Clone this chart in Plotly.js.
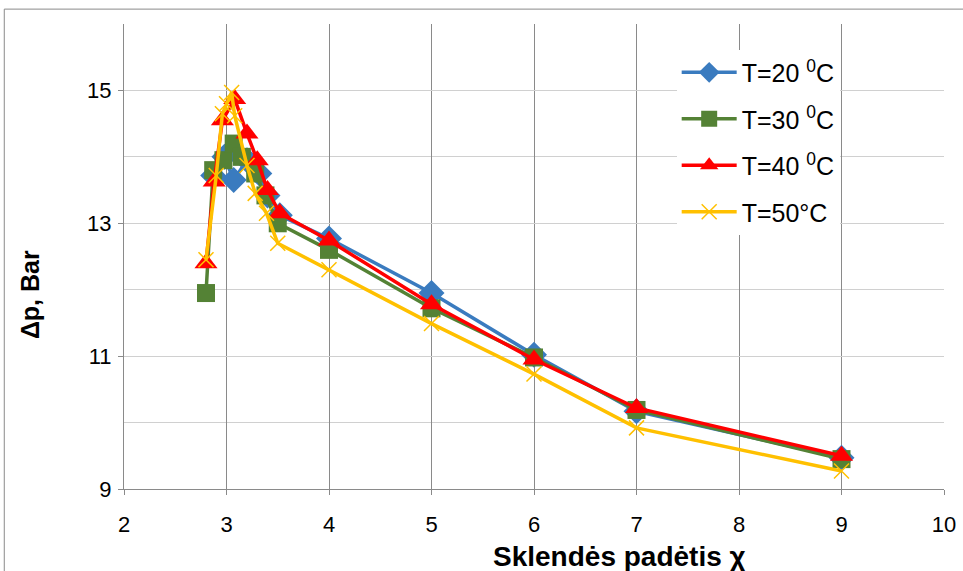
<!DOCTYPE html>
<html>
<head>
<meta charset="utf-8">
<script src="https://cdn.plot.ly/plotly-3.0.1.min.js"></script>
<style>
html,body{margin:0;padding:0;background:#fff;}
#chart{width:963px;height:571px;}
</style>
</head>
<body>
<div id="chart"></div>
<script>
// Series data (x = valve position, y = pressure drop, Bar)
const names = ["T=20 <sup>0</sup>C", "T=30 <sup>0</sup>C", "T=40 <sup>0</sup>C", "T=50°C"];

const x20 = [2.87, 2.98, 3.07, 3.2, 3.32, 3.4, 3.52, 4, 5, 6, 7, 9];
const y20 = [13.72, 14.0, 13.65, 13.95, 13.75, 13.42, 13.12, 12.77, 11.95, 11.02, 10.17, 9.47];

const x30 = [2.8, 2.87, 2.97, 3.07, 3.15, 3.28, 3.38, 3.5, 4, 5, 6, 7, 9];
const y30 = [11.95, 13.8, 13.95, 14.2, 14.0, 13.75, 13.42, 13.0, 12.6, 11.72, 10.98, 10.19, 9.45];

const x40 = [2.8, 2.88, 2.96, 3.08, 3.2, 3.3, 3.4, 3.52, 4, 5, 6, 7, 9];
const y40 = [12.4, 13.63, 14.55, 14.87, 14.35, 13.95, 13.5, 13.15, 12.74, 11.78, 10.95, 10.22, 9.5];

const x50 = [2.8, 2.9, 2.96, 3.0, 3.05, 3.08, 3.2, 3.28, 3.39, 3.5, 4, 5, 6, 7, 9];
const y50 = [12.45, 13.72, 14.65, 14.8, 14.97, 14.62, 13.87, 13.45, 13.15, 12.7, 12.3, 11.49, 10.73, 9.92, 9.27];

const xTicks = [2, 3, 4, 5, 6, 7, 8, 9, 10];
const yTicks = [9, 11, 13, 15];

const xTitle = "Sklendės padėtis χ";
const yTitle = "Δp, Bar";

const FONT = "Liberation Sans, Arial, sans-serif";

const traces = [
  {x: x20, y: y20, name: names[0], legendgroup: "a", mode: "lines+markers",
   line: {color: "#3a7bbf", width: 3.5},
   marker: {symbol: "diamond", size: 20, color: "#3a7bbf"}},
  {x: x30, y: y30, name: names[1], legendgroup: "b", mode: "lines+markers",
   line: {color: "#548235", width: 3.5},
   marker: {symbol: "square", size: 18, color: "#548235"}},
  {x: x40, y: y40, name: names[2], legendgroup: "c", mode: "lines+markers",
   line: {color: "#ff0000", width: 3.5},
   marker: {symbol: "triangle-up", size: 20, color: "#ff0000"}},
  {x: x50, y: y50, name: names[3], legendgroup: "d", mode: "lines+markers",
   line: {color: "#ffc000", width: 3.5},
   marker: {symbol: "x-thin", size: 15, color: "#ffc000", line: {color: "#ffc000", width: 1.5}}}
];

const layout = {
  width: 963, height: 571,
  margin: {l: 124, r: 19, t: 24, b: 82},
  paper_bgcolor: "#fff", plot_bgcolor: "#fff",
  font: {family: FONT, color: "#000", size: 22},
  showlegend: true,
  legend: {
    x: 0.674, y: 0.945, xanchor: "left", yanchor: "top",
    bgcolor: "#fff", borderwidth: 0,
    font: {size: 25, family: FONT},
    tracegroupgap: 11, traceorder: "grouped", itemwidth: 55
  },
  xaxis: {
    range: [2, 10], tickvals: xTicks, ticktext: xTicks.map(String),
    showgrid: true, gridcolor: "#8a8a8a", gridwidth: 1,
    showline: true, linecolor: "#8a8a8a", linewidth: 1,
    ticks: "outside", ticklen: 5, tickcolor: "#8a8a8a",
    ticklabelstandoff: 11,
    zeroline: false, tickfont: {size: 22}
  },
  yaxis: {
    range: [9, 16], tickvals: yTicks, ticktext: yTicks.map(String),
    showgrid: true, gridcolor: "#d0d0d0", gridwidth: 1,
    minor: {tick0: 9, dtick: 1, showgrid: true, gridcolor: "#d0d0d0", ticks: ""},
    showline: true, linecolor: "#8a8a8a", linewidth: 1,
    ticks: "outside", ticklen: 5, tickcolor: "#8a8a8a",
    ticklabelstandoff: 2,
    zeroline: false, tickfont: {size: 22}
  },
  annotations: [
    {text: "<b>" + xTitle + "</b>", xref: "paper", yref: "paper",
     x: 0.604, y: -0.146, xanchor: "center", yanchor: "middle",
     showarrow: false, font: {size: 28, family: FONT}},
    {text: "<b>" + yTitle + "</b>", xref: "paper", yref: "paper",
     x: -0.1146, y: 0.417, xanchor: "center", yanchor: "middle", textangle: -90,
     showarrow: false, font: {size: 25, family: FONT}}
  ],
  shapes: [
    {type: "rect", xref: "paper", yref: "paper",
     x0: -0.146, x1: 1.2, y0: -0.3, y1: 1.032,
     line: {color: "#8a8a8a", width: 1}, fillcolor: "rgba(0,0,0,0)", layer: "below"}
  ]
};

Plotly.newPlot("chart", traces, layout, {displayModeBar: false, staticPlot: true});
</script>
</body>
</html>
